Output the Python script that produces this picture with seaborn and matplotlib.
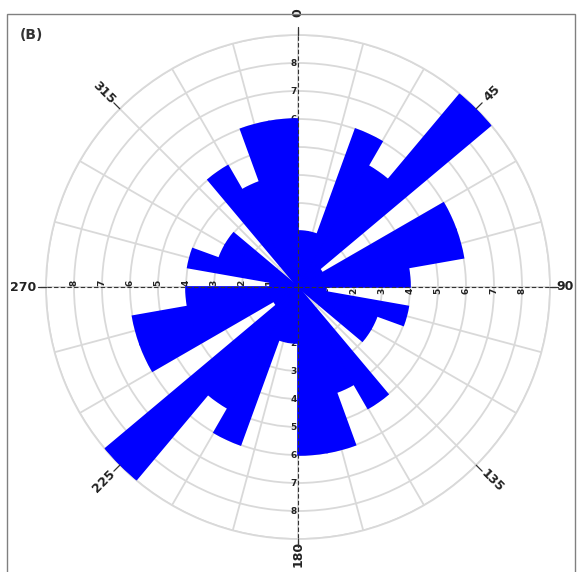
import numpy as np
import pandas as pd
import matplotlib
matplotlib.use("Agg")
import matplotlib.pyplot as plt
import seaborn as sns

# rose diagram, 10 degree bins from 0 to 180 (axial data -> mirrored)
bin_start = [0, 10, 20, 30, 40, 50, 60, 70, 80, 90, 100, 110, 120, 130, 140, 150, 160, 170]
counts = [2, 2, 6, 5, 9, 1, 6, 6, 4, 1, 4, 3, 3, 0, 5, 4, 6, 6]
dir_angles = [0, 45, 90, 135, 180, 225, 270, 315]
dir_labels = ["0", "45", "90", "135", "180", "225", "270", "315"]
ring_values = [1, 2, 3, 4, 5, 6, 7, 8]
panel_label = "(B)"

sns.set_theme(style="white")
plt.rcParams['font.family'] = ['DejaVu Sans']

df = pd.DataFrame({
    'start': bin_start + [b + 180 for b in bin_start],
    'count': counts + counts,
})

fig = plt.figure(figsize=(5.77, 5.72), dpi=100)
ax = fig.add_axes([46 / 577, 33 / 572, 504 / 577, 504 / 572], projection='polar')
ax.set_theta_zero_location('N')
ax.set_theta_direction(-1)

ax.bar(np.deg2rad(df['start']), df['count'], width=np.deg2rad(10), align='edge',
       color='#0000ff', edgecolor='#0000ff', linewidth=1.2, zorder=3)

ax.set_ylim(0, 9)
ax.set_rticks(range(1, 10))
ax.set_yticklabels([])
ax.set_thetagrids(range(0, 360, 15), labels=[])
ax.set_axisbelow(True)
ax.grid(color='#d9d9d9', lw=1.3)
ax.spines['polar'].set_color('#d9d9d9')
ax.spines['polar'].set_linewidth(1.3)

# dashed N-S / E-W axes through the centre
for a in [0, 90, 180, 270]:
    t = np.deg2rad(a)
    ax.plot([t, t], [0, 9.3], color='#333333', lw=0.8, ls=(0, (4, 2)), zorder=4, clip_on=False)

# numbers along the axes (drawn under the bars)
offsets = {0: (-3, 0, 0), 180: (-3, 0, 0), 270: (0, 3, 90), 90: (0, -3, 90)}
for a, (dx, dy, rot) in offsets.items():
    t = np.deg2rad(a)
    for v in ring_values:
        ax.annotate(str(v), (t, v), xytext=(dx, dy), textcoords='offset points',
                    ha='center', va='center', rotation=rot, fontsize=6.5,
                    fontweight='bold', color='#222222', zorder=2)

# direction labels
for a, lab in zip(dir_angles, dir_labels):
    t = np.deg2rad(a)
    ax.plot([t, t], [9.0, 9.3], color='#333333', lw=0.9, zorder=4, clip_on=False)
    rot = (90 - a) % 180
    if rot > 90:
        rot -= 180
    r_lab = 9.55 if a in (90, 180) else 9.8
    ax.text(t, r_lab, lab, rotation=rot, rotation_mode='anchor', ha='center', va='center',
            fontsize=9, fontweight='bold', color='#222222', clip_on=False)

fig.add_artist(plt.Rectangle((7 / 577, -0.01), (575 - 7) / 577, 1 - 14 / 572 + 0.01,
                             transform=fig.transFigure, fill=False,
                             edgecolor='#808080', lw=1.0))
fig.text(20 / 577, 1 - 35 / 572, panel_label, fontsize=10, fontweight='bold',
         va='center', color='#333333')

fig.savefig('out.png', dpi=100)
